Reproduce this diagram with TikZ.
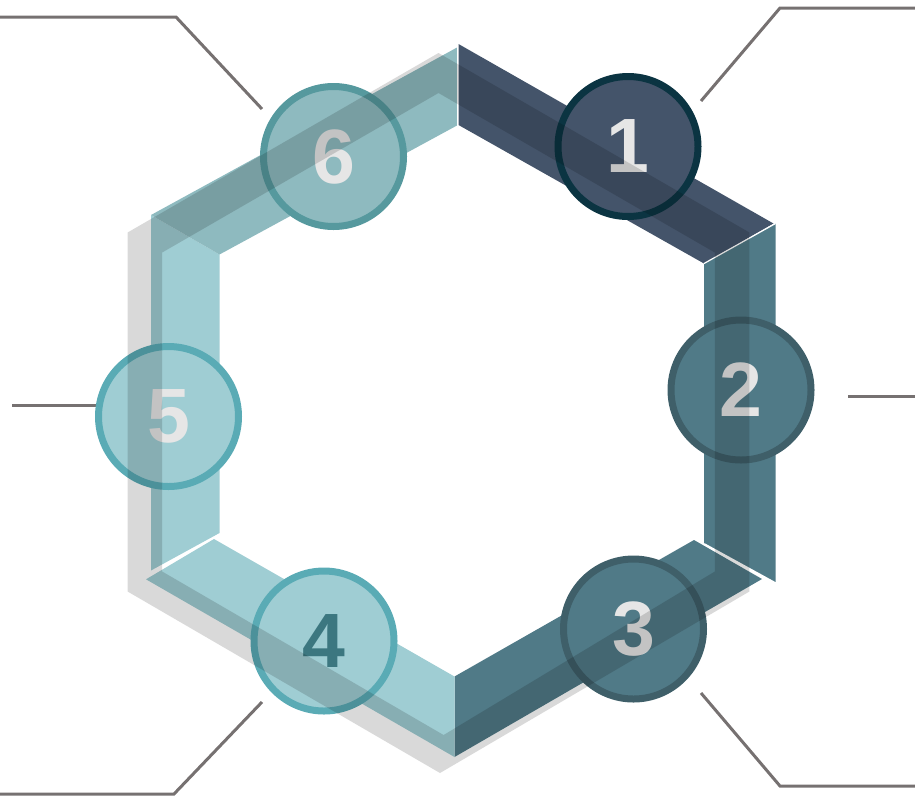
\documentclass[tikz,border=0pt]{standalone}
\usepackage{fontspec}
\setmainfont{Liberation Sans}
\definecolor{navy}{HTML}{44546A}
\definecolor{tealD}{HTML}{507A87}
\definecolor{tealL}{HTML}{9FCDD3}
\definecolor{tealM}{HTML}{8EBABF}
\definecolor{ringA}{HTML}{0B3442}
\definecolor{ringB}{HTML}{3F5F69}
\definecolor{ringC}{HTML}{5AABB5}
\definecolor{ringD}{HTML}{56999E}
\definecolor{leader}{HTML}{767171}
\definecolor{numlight}{HTML}{E6E6E6}
\definecolor{numdark}{HTML}{3C7780}
\begin{document}
\begin{tikzpicture}[x=1pt,y=-1pt,
  badge/.style={circle, minimum size=140pt, inner sep=0pt, line width=7pt},
  num/.style={font=\fontsize{77}{77}\selectfont\bfseries, inner sep=0pt},
  leaderline/.style={draw=leader, line width=3pt},
  joint/.style={draw=white, line width=#1},
  band/.style={fill=black, opacity=0.15, even odd rule}]
\useasboundingbox (0,0) rectangle (915,796);
% segments
\fill[navy]  (458.5,44) -- (773.5,223.5) -- (704,263.5) -- (458.5,125) -- cycle;
\fill[tealD] (775.5,223.5) -- (775.5,583) -- (704,544) -- (704,263.5) -- cycle;
\fill[tealD] (762,579) -- (454.5,757) -- (454.5,676.5) -- (694,540) -- cycle;
\fill[tealL] (454.5,676.5) -- (454.5,757) -- (146,579.3) -- (214,539) -- cycle;
\fill[tealL] (151,570.5) -- (151,215) -- (219.5,254.5) -- (219.5,533) -- cycle;
\fill[tealM] (151,215) -- (457,47.5) -- (457,125.5) -- (219.5,254.5) -- cycle;
% joints
\draw[joint=1.2pt] (457.8,44) -- (457.8,125.5);
\draw[joint=1.2pt] (704,263.5) -- (775.5,223.5);
\draw[joint=2pt] (704,544) -- (776,583.5);
% leader lines
\coordinate (tl0) at (262,109); \coordinate (tl1) at (176,17); \coordinate (tl2) at (0,17);
\coordinate (tr0) at (701,101); \coordinate (tr1) at (780,8); \coordinate (tr2) at (915,8);
\coordinate (r0) at (848,396);  \coordinate (r1) at (915,396);
\coordinate (br0) at (701,693); \coordinate (br1) at (780,786); \coordinate (br2) at (915,786);
\coordinate (bl0) at (262,702); \coordinate (bl1) at (174,794); \coordinate (bl2) at (0,794);
\coordinate (l0) at (12,405);   \coordinate (l1) at (96,405);
\draw[leaderline] (tl0) -- (tl1) -- (tl2);
\draw[leaderline] (tr0) -- (tr1) -- (tr2);
\draw[leaderline] (r0) -- (r1);
\draw[leaderline] (br0) -- (br1) -- (br2);
\draw[leaderline] (bl0) -- (bl1) -- (bl2);
\draw[leaderline] (l0) -- (l1);
% badges
\node[badge, fill=navy, draw=ringA]  (c1) at (628,146.5) {};
\node[badge, fill=tealD, draw=ringB] (c2) at (741,390) {};
\node[badge, fill=tealD, draw=ringB] (c3) at (633.5,629) {};
\node[badge, fill=tealL, draw=ringC] (c4) at (324,641) {};
\node[badge, fill=tealL, draw=ringC] (c5) at (168.5,416.5) {};
\node[badge, fill=tealM, draw=ringD] (c6) at (333.5,156.5) {};
% numbers
\node[num, text=numlight] (n1) at (c1) {1};
\node[num, text=numlight] (n2) at (c2) {2};
\node[num, text=numlight] (n3) at (c3) {3};
\node[num, text=numdark]  (n4) at (c4) {4};
\node[num, text=numlight] (n5) at (c5) {5};
\node[num, text=numlight] (n6) at (c6) {6};
% depth band / shadow ring
\fill[band] (438.5,53) -- (749.4,232.5) -- (749.4,591.5) -- (440,773) -- (127.6,591.5) -- (127.6,232.5) -- cycle
  (438.5,93) -- (714.8,252.5) -- (714.8,571.5) -- (443.6,735) -- (162.2,571.5) -- (162.2,252.5) -- cycle;
\end{tikzpicture}
\end{document}
